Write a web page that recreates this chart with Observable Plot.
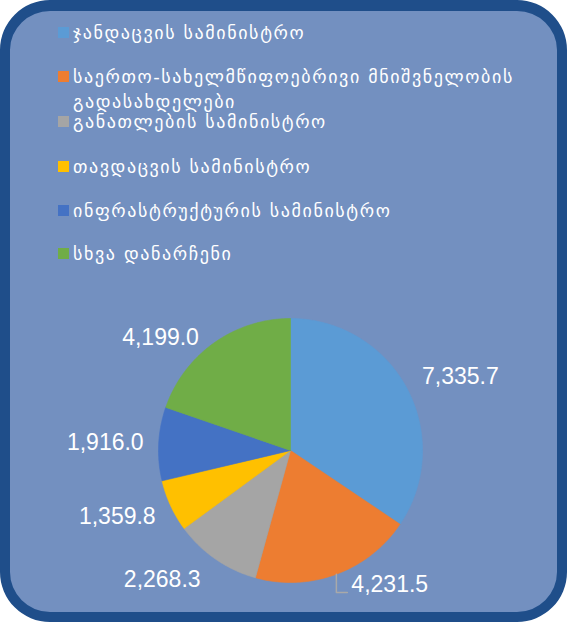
<!DOCTYPE html>
<html>
<head>
<meta charset="utf-8">
<script src="https://cdn.jsdelivr.net/npm/d3@7"></script>
<script src="https://cdn.jsdelivr.net/npm/@observablehq/plot@0.6"></script>
<style>
  html, body { margin: 0; padding: 0; background: #ffffff; }
  #wrap { position: relative; width: 567px; height: 622px; overflow: hidden; background: #ffffff; }
  #frame { position: absolute; left: 0; top: 0; width: 567px; height: 622px; box-sizing: border-box;
           border: 10px solid #1F4E8A; border-top-width: 11px; border-radius: 50px; background: #7390C0; }
  #chart { position: absolute; left: 0; top: 0; }
  #legend { position: absolute; left: 0; top: 0; width: 567px; height: 300px;
            font-family: "DejaVu Sans", "Noto Sans", sans-serif; font-size: 18px; letter-spacing: 1.6px; color: #ffffff; }
  .item { position: absolute; left: 58px; width: 485px; line-height: 25px; }
  .sw { position: absolute; left: 0; width: 11px; height: 11px; }
  .tx { margin-left: 15px; }
</style>
</head>
<body>
<div id="wrap">
  <div id="frame"></div>
  <div id="chart"></div>
  <div id="legend"></div>
</div>
<script>
const names = [
  "ჯანდაცვის სამინისტრო",
  "საერთო-სახელმწიფოებრივი მნიშვნელობის გადასახდელები",
  "განათლების სამინისტრო",
  "თავდაცვის სამინისტრო",
  "ინფრასტრუქტურის სამინისტრო",
  "სხვა დანარჩენი"
];
const values = [7335.7, 4231.5, 2268.3, 1359.8, 1916.0, 4199.0];
const colors = ["#5B9BD5", "#ED7D31", "#A5A5A5", "#FFC000", "#4472C4", "#70AD47"];

const W = 567, H = 622, R = 132, cx = 290, cy = 450;
const fmt = d3.format(",.1f");
const rows = names.map((n, i) => ({key: n, value: values[i]}));
const arcs = d3.pie().sort(null).value(d => d.value)(rows);

// wedge outlines in data units (radius = 1)
const wedgePts = [];
arcs.forEach(a => {
  wedgePts.push({key: a.data.key, x: 0, y: 0});
  const n = Math.max(2, Math.ceil((a.endAngle - a.startAngle) / 0.01));
  for (let k = 0; k <= n; k++) {
    const t = a.startAngle + (a.endAngle - a.startAngle) * k / n;
    wedgePts.push({key: a.data.key, x: Math.sin(t), y: Math.cos(t)});
  }
  wedgePts.push({key: a.data.key, x: 0, y: 0});
});

// labels: outside end
const yTop = 0.855, yBot = -1.015;
const labels = arcs.map(a => {
  const m = (a.startAngle + a.endAngle) / 2;
  const ex = Math.sin(m), ey = Math.cos(m);
  const natural = ey * 1.19;
  const y = Math.min(yTop, Math.max(yBot, natural));
  return {key: a.data.key, label: fmt(a.data.value), x: ex, y, ex, ey, side: ex >= 0 ? 1 : -1,
          pulledUp: natural < yBot};
});
const leaders = [];
labels.filter(d => d.pulledUp).forEach(d => {
  const cornerY = d.y - 8 / R;
  leaders.push({key: d.key, x: d.ex, y: d.ey});
  leaders.push({key: d.key, x: d.ex, y: cornerY});
  leaders.push({key: d.key, x: d.ex + (d.side * 11) / R, y: cornerY});
});

const font = "'Liberation Sans', Arial, sans-serif";
const plot = Plot.plot({
  width: W, height: H,
  margin: 0,
  style: {background: "transparent"},
  x: {domain: [-cx / R, (W - cx) / R], axis: null},
  y: {domain: [-(H - cy) / R, cy / R], axis: null},
  color: {domain: names, range: colors},
  marks: [
    Plot.line(wedgePts, {x: "x", y: "y", z: "key", fill: "key", stroke: "key", strokeWidth: 0.6}),
    Plot.line(leaders, {x: "x", y: "y", z: "key", stroke: "#A9A9A9", strokeWidth: 1.5}),
    Plot.text(labels.filter(d => d.side > 0), {x: "x", y: "y", text: "label", textAnchor: "start", dx: 15,
      fill: "white", fontSize: 23, fontFamily: font}),
    Plot.text(labels.filter(d => d.side < 0), {x: "x", y: "y", text: "label", textAnchor: "end", dx: -15,
      fill: "white", fontSize: 23, fontFamily: font})
  ]
});
document.getElementById("chart").appendChild(plot);

// legend
const legend = document.getElementById("legend");
const tops = [27, 71, 116, 161, 205, 248];
names.forEach((n, i) => {
  const item = document.createElement("div");
  item.className = "item";
  item.style.top = (tops[i] - 6.7) + "px";
  const sw = document.createElement("span");
  sw.className = "sw";
  sw.style.background = colors[i];
  sw.style.top = "6.7px";
  const tx = document.createElement("div");
  tx.className = "tx";
  tx.textContent = n;
  item.appendChild(sw);
  item.appendChild(tx);
  legend.appendChild(item);
});
</script>
</body>
</html>
